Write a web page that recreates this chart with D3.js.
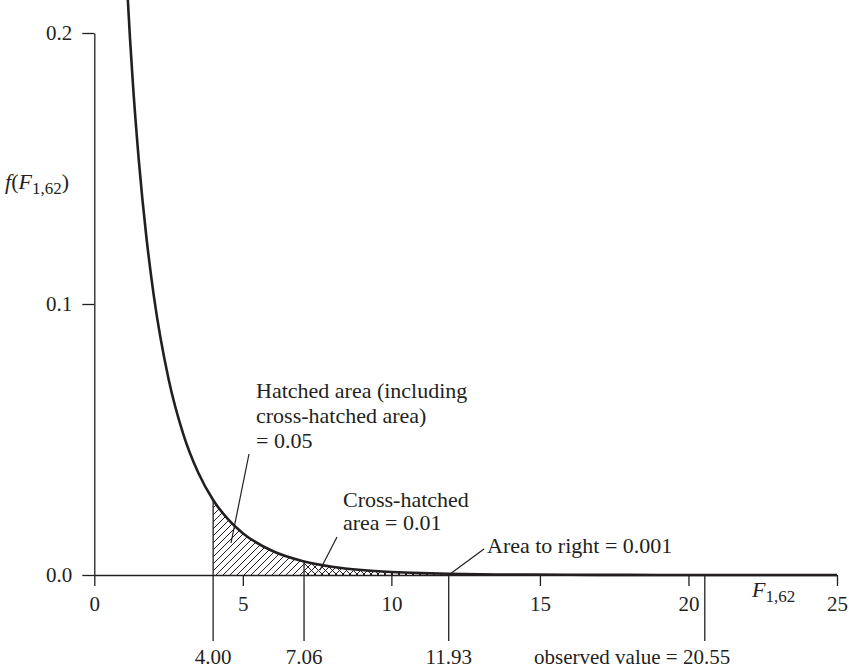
<!DOCTYPE html>
<html>
<head>
<meta charset="utf-8">
<script src="https://cdn.jsdelivr.net/npm/d3@7"></script>
<style>
    body { margin: 0; background: #fff; }
    text { font-family: 'Liberation Serif', 'Times New Roman', serif; fill: #231f20; }
</style>
</head>
<body>
<script>
// density of F(1,62)
const curveX = [1.12, 1.2, 1.3, 1.5, 1.75, 2, 2.5, 3, 3.5, 4, 4.5, 5, 6, 7, 7.06, 8, 9, 10, 11, 11.93, 13, 14, 16, 18, 20, 22, 25];
const curveY = [0.214, 0.1983, 0.1812, 0.1528, 0.125, 0.1033, 0.0723, 0.0518, 0.0377, 0.0277, 0.0206, 0.01544, 0.00884, 0.00517, 0.005, 0.00307, 0.00185, 0.00113, 0.0007, 0.00045, 0.00026, 0.00017, 0.00007, 0.00003, 0.00001, 0.000005, 0];

const xTicks = [0, 5, 10, 15, 20, 25];
const yTicks = [0, 0.1, 0.2];

const cutoffs = [4.00, 7.06, 11.93, 20.55];
const cutoffLabels = ['4.00', '7.06', '11.93', 'observed value = 20.55'];

const hatchRange = [4.00, 7.06];
const crossRange = [7.06, 11.93];

const width = 849;
const height = 671;

const x = d3.scaleLinear().domain([0, 25]).range([94.3, 837]);
const y = d3.scaleLinear().domain([0, 0.2]).range([575, 33]);

const points = curveX.map((v, i) => ({ x: v, y: curveY[i] }));

const svg = d3.select('body').append('svg')
    .attr('width', width)
    .attr('height', height);

// hatch patterns
const defs = svg.append('defs');

const hatch = defs.append('pattern')
    .attr('id', 'hatch')
    .attr('patternUnits', 'userSpaceOnUse')
    .attr('width', 7)
    .attr('height', 7);
hatch.append('path')
    .attr('d', 'M-1,8 L8,-1 M-2,1 L1,-2 M6,9 L9,6')
    .attr('stroke', '#231f20')
    .attr('stroke-width', 1);

const cross = defs.append('pattern')
    .attr('id', 'cross')
    .attr('patternUnits', 'userSpaceOnUse')
    .attr('width', 7)
    .attr('height', 7);
cross.append('path')
    .attr('d', 'M-1,8 L8,-1 M-2,1 L1,-2 M6,9 L9,6 M-1,-1 L8,8 M-2,6 L1,9 M6,-2 L9,1')
    .attr('stroke', '#231f20')
    .attr('stroke-width', 1);

const area = d3.area()
    .x(d => x(d.x))
    .y0(y(0))
    .y1(d => y(d.y))
    .curve(d3.curveMonotoneX);

svg.append('path')
    .datum(points.filter(d => d.x >= hatchRange[0] && d.x <= hatchRange[1]))
    .attr('d', area)
    .attr('fill', 'url(#hatch)');

svg.append('path')
    .datum(points.filter(d => d.x >= crossRange[0] && d.x <= crossRange[1]))
    .attr('d', area)
    .attr('fill', 'url(#cross)');

// x-axis
const xAxis = d3.axisBottom(x)
    .tickValues(xTicks)
    .tickSize(11)
    .tickPadding(10)
    .tickSizeOuter(0);

svg.append('g')
    .attr('transform', `translate(0, ${y(0)})`)
    .call(xAxis)
    .attr('font-family', null)
    .attr('font-size', 21)
    .call(g => g.selectAll('path, line').attr('stroke', '#231f20').attr('stroke-width', 1.3));

// y-axis
const yAxis = d3.axisLeft(y)
    .tickValues(yTicks)
    .tickFormat(d3.format('.1f'))
    .tickSize(12)
    .tickPadding(10)
    .tickSizeOuter(0);

svg.append('g')
    .attr('transform', `translate(${x(0)}, 0)`)
    .call(yAxis)
    .attr('font-family', null)
    .attr('font-size', 21)
    .call(g => g.selectAll('path, line').attr('stroke', '#231f20').attr('stroke-width', 1.3));

// density curve
const line = d3.line()
    .x(d => x(d.x))
    .y(d => y(d.y))
    .curve(d3.curveMonotoneX);

svg.append('path')
    .datum(points)
    .attr('d', line)
    .attr('fill', 'none')
    .attr('stroke', '#231f20')
    .attr('stroke-width', 2.6);

// cutoff lines below the axis
function curveAt(v)
{
    const i = d3.bisectLeft(curveX, v);
    if (i <= 0) return curveY[0];
    if (i >= curveX.length) return 0;
    const t = (v - curveX[i - 1]) / (curveX[i] - curveX[i - 1]);
    return curveY[i - 1] + t * (curveY[i] - curveY[i - 1]);
}

svg.selectAll('line.cutoff')
    .data(cutoffs)
    .enter()
    .append('line')
    .attr('class', 'cutoff')
    .attr('x1', d => x(d))
    .attr('x2', d => x(d))
    .attr('y1', d => y(curveAt(d)))
    .attr('y2', 641)
    .attr('stroke', '#231f20')
    .attr('stroke-width', 1.3);

svg.selectAll('text.cutoff')
    .data(cutoffs)
    .enter()
    .append('text')
    .attr('class', 'cutoff')
    .attr('x', (d, i) => i === 3 ? 534 : x(d))
    .attr('y', 664)
    .attr('text-anchor', (d, i) => i === 3 ? 'start' : 'middle')
    .attr('font-size', 21)
    .text((d, i) => cutoffLabels[i]);

// annotations
const notes = svg.append('g').attr('font-size', 22);

notes.append('text').attr('x', 256).attr('y', 398).text('Hatched area (including');
notes.append('text').attr('x', 256).attr('y', 423).text('cross-hatched area)');
notes.append('text').attr('x', 256).attr('y', 448).text('= 0.05');
notes.append('text').attr('x', 343).attr('y', 507).text('Cross-hatched');
notes.append('text').attr('x', 343).attr('y', 530).text('area = 0.01');
notes.append('text').attr('x', 487).attr('y', 553).text('Area to right = 0.001');

const leaders = [
    [249, 454, 231, 543],
    [337, 537, 320, 570],
    [484, 549, x(11.93), y(0)]
];

svg.selectAll('line.leader')
    .data(leaders)
    .enter()
    .append('line')
    .attr('class', 'leader')
    .attr('x1', d => d[0])
    .attr('y1', d => d[1])
    .attr('x2', d => d[2])
    .attr('y2', d => d[3])
    .attr('stroke', '#231f20')
    .attr('stroke-width', 1.2);

// axis titles
const yTitle = svg.append('text')
    .attr('x', 5)
    .attr('y', 189)
    .attr('font-size', 22);
yTitle.append('tspan').attr('font-style', 'italic').text('f');
yTitle.append('tspan').text('(');
yTitle.append('tspan').attr('font-style', 'italic').text('F');
yTitle.append('tspan').attr('font-size', 17).attr('dy', 5).text('1,62');
yTitle.append('tspan').attr('dy', -5).text(')');

const xTitle = svg.append('text')
    .attr('x', 752)
    .attr('y', 597)
    .attr('font-size', 22);
xTitle.append('tspan').attr('font-style', 'italic').text('F');
xTitle.append('tspan').attr('font-size', 17).attr('dy', 5).text('1,62');
</script>
</body>
</html>
